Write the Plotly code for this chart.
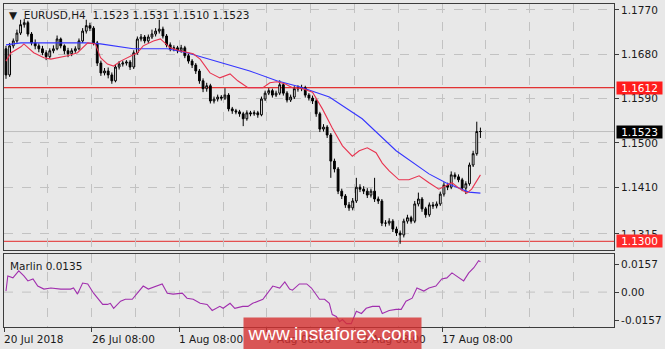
import plotly.graph_objects as go

# ---------------- data ----------------
bar_idx = list(range(131))

closes = [
    1.1638, 1.1697, 1.1707, 1.1723, 1.1740, 1.1744, 1.1721, 1.1703, 1.1697, 1.1691,
    1.1683, 1.1675, 1.1687, 1.1691, 1.1711, 1.1697, 1.1687, 1.1681, 1.1687, 1.1691,
    1.1707, 1.1727, 1.1738, 1.1733, 1.1703, 1.1662, 1.1642, 1.1646, 1.1638, 1.1626,
    1.1654, 1.1660, 1.1662, 1.1664, 1.1654, 1.1683, 1.1711, 1.1715, 1.1707, 1.1715,
    1.1721, 1.1727, 1.1731, 1.1717, 1.1699, 1.1691, 1.1693, 1.1687, 1.1693, 1.1677,
    1.1666, 1.1658, 1.1646, 1.1626, 1.1610, 1.1616, 1.1585, 1.1589, 1.1593, 1.1591,
    1.1597, 1.1569, 1.1565, 1.1563, 1.1559, 1.1549, 1.1561, 1.1559, 1.1561, 1.1557,
    1.1589, 1.1601, 1.1606, 1.1597, 1.1601, 1.1618, 1.1601, 1.1587, 1.1593, 1.1610,
    1.1610, 1.1612, 1.1597, 1.1591, 1.1585, 1.1559, 1.1528, 1.1532, 1.1516, 1.1463,
    1.1447, 1.1402, 1.1392, 1.1374, 1.1368, 1.1382, 1.1410, 1.1406, 1.1402, 1.1394,
    1.1402, 1.1386, 1.1382, 1.1337, 1.1337, 1.1341, 1.1325, 1.1317, 1.1313, 1.1341,
    1.1348, 1.1341, 1.1376, 1.1386, 1.1366, 1.1354, 1.1374, 1.1372, 1.1376, 1.1396,
    1.1414, 1.1410, 1.1435, 1.1431, 1.1425, 1.1408, 1.1417, 1.1455, 1.1478, 1.1523,
    1.1523,
]
first_open = 1.1691
opens = [first_open] + closes[:-1]

highs = [
    1.1697, 1.1703, 1.1712, 1.1730, 1.1750, 1.1752, 1.1748, 1.1725, 1.1710, 1.1702,
    1.1697, 1.1688, 1.1692, 1.1698, 1.1718, 1.1714, 1.1700, 1.1693, 1.1692, 1.1696,
    1.1712, 1.1733, 1.1750, 1.1744, 1.1737, 1.1707, 1.1667, 1.1652, 1.1653, 1.1643,
    1.1659, 1.1666, 1.1667, 1.1668, 1.1668, 1.1688, 1.1716, 1.1721, 1.1719, 1.1720,
    1.1730, 1.1733, 1.1750, 1.1736, 1.1721, 1.1704, 1.1698, 1.1697, 1.1699, 1.1697,
    1.1681, 1.1670, 1.1662, 1.1650, 1.1631, 1.1622, 1.1620, 1.1594, 1.1598, 1.1597,
    1.1611, 1.1601, 1.1573, 1.1569, 1.1567, 1.1563, 1.1566, 1.1565, 1.1566, 1.1565,
    1.1594, 1.1606, 1.1611, 1.1610, 1.1606, 1.1627, 1.1622, 1.1605, 1.1598, 1.1615,
    1.1617, 1.1618, 1.1616, 1.1601, 1.1596, 1.1589, 1.1563, 1.1538, 1.1536, 1.1520,
    1.1468, 1.1451, 1.1407, 1.1396, 1.1380, 1.1388, 1.1429, 1.1416, 1.1412, 1.1408,
    1.1407, 1.1429, 1.1391, 1.1386, 1.1343, 1.1347, 1.1345, 1.1330, 1.1322, 1.1346,
    1.1354, 1.1352, 1.1382, 1.1399, 1.1390, 1.1370, 1.1379, 1.1380, 1.1381, 1.1401,
    1.1420, 1.1419, 1.1442, 1.1440, 1.1436, 1.1429, 1.1422, 1.1460, 1.1484, 1.1543,
    1.1531,
]
lows = [
    1.1630, 1.1634, 1.1692, 1.1703, 1.1719, 1.1734, 1.1716, 1.1698, 1.1690, 1.1684,
    1.1678, 1.1668, 1.1671, 1.1682, 1.1688, 1.1692, 1.1680, 1.1674, 1.1676, 1.1683,
    1.1688, 1.1703, 1.1722, 1.1727, 1.1698, 1.1656, 1.1636, 1.1637, 1.1631, 1.1620,
    1.1623, 1.1649, 1.1655, 1.1657, 1.1648, 1.1650, 1.1679, 1.1706, 1.1702, 1.1703,
    1.1711, 1.1716, 1.1722, 1.1712, 1.1694, 1.1686, 1.1686, 1.1682, 1.1683, 1.1672,
    1.1661, 1.1652, 1.1640, 1.1620, 1.1603, 1.1604, 1.1580, 1.1580, 1.1584, 1.1586,
    1.1587, 1.1564, 1.1559, 1.1558, 1.1553, 1.1534, 1.1545, 1.1554, 1.1555, 1.1551,
    1.1554, 1.1585, 1.1597, 1.1592, 1.1593, 1.1597, 1.1596, 1.1582, 1.1583, 1.1589,
    1.1604, 1.1605, 1.1592, 1.1586, 1.1579, 1.1553, 1.1522, 1.1523, 1.1510, 1.1429,
    1.1440, 1.1396, 1.1386, 1.1368, 1.1362, 1.1363, 1.1378, 1.1400, 1.1396, 1.1388,
    1.1389, 1.1380, 1.1376, 1.1331, 1.1330, 1.1332, 1.1319, 1.1311, 1.1295, 1.1308,
    1.1336, 1.1336, 1.1337, 1.1371, 1.1360, 1.1348, 1.1350, 1.1366, 1.1367, 1.1372,
    1.1391, 1.1404, 1.1406, 1.1426, 1.1420, 1.1402, 1.1396, 1.1413, 1.1451, 1.1474,
    1.1510,
]

# fast (red) moving average, read at bar positions
ma_fast_x = [0, 1.4, 4.1, 4.9, 7.6, 10.4, 12.3, 16.9, 19.6, 22.4, 24.5, 25.9, 27.8, 29.5,
             31.4, 34.1, 36, 37.6, 40.4, 42.3, 45, 47.7, 51.3, 53.2, 55.9, 58.6, 61.4,
             63.5, 66.3, 68.7, 70.4, 72.3, 74.2, 76.4, 78.5, 81.3, 84, 86.7, 89.4, 92.2,
             94.9, 96.8, 99, 101.4, 103.1, 105, 107.7, 110.4, 113.2, 115.9, 118.6, 120.5,
             122.2, 124.1, 126.3, 127.6, 130]
ma_fast_y = [1.1666, 1.1683, 1.1695, 1.1701, 1.1683, 1.1673, 1.1670, 1.1677, 1.1683, 1.1703,
             1.1701, 1.1673, 1.1660, 1.1656, 1.1666, 1.1677, 1.1683, 1.1697, 1.1707, 1.1711,
             1.1693, 1.1687, 1.1681, 1.1670, 1.1642, 1.1632, 1.1640, 1.1626, 1.1612, 1.1612,
             1.1612, 1.1622, 1.1624, 1.1620, 1.1612, 1.1610, 1.1603, 1.1569, 1.1530, 1.1494,
             1.1473, 1.1484, 1.1490, 1.1480, 1.1459, 1.1443, 1.1425, 1.1425, 1.1433, 1.1419,
             1.1406, 1.1413, 1.1419, 1.1408, 1.1398, 1.1406, 1.1435]

# slow (blue) moving average
ma_slow_x = [0, 4.1, 21.8, 25.9, 34.9, 44.2, 49.6, 57.8, 66.8, 74.2, 80.4, 88.6, 97.6,
             106.9, 115.9, 120.5, 124.9, 126.8, 130]
ma_slow_y = [1.1699, 1.1703, 1.1703, 1.1701, 1.1691, 1.1691, 1.1683, 1.1666, 1.1646, 1.1626,
             1.1614, 1.1593, 1.1549, 1.1484, 1.1437, 1.1419, 1.1406, 1.1400, 1.1398]

# Marlin oscillator
marlin_x = [0, 0.5, 1.9, 3.5, 4.9, 6.0, 7.4, 8.7, 10.4, 12.3, 15, 17.7, 18.5, 19.6, 21, 22.4,
            24, 26.5, 27.8, 28.6, 29.5, 31.4, 32.7, 34.6, 36, 37.6, 39, 41.5, 42.8, 44.2,
            45.8, 48.3, 49.6, 51.3, 53.2, 55.1, 56.5, 58.6, 59.5, 61.4, 62.7, 64.9, 66.3,
            67.6, 70.4, 73.1, 75, 76.4, 77.7, 78.5, 80.4, 82.4, 83.7, 85.9, 87.3, 88.6,
            89.4, 90.5, 91.4, 92.2, 93.3, 94.6, 96, 97.4, 98.7, 100.4, 102.3, 103.1, 105,
            106.9, 108.3, 109.6, 111.3, 112.6, 114.5, 115.9, 117.8, 119.4, 120.8, 122.2,
            123.5, 125.4, 126.8, 128.2, 129.5, 130]
marlin_y = [0.0006, 0.0091, 0.0080, 0.0120, 0.0091, 0.0063, 0.0074, 0.0034, 0.0017, 0.0023,
            0.0017, 0.0017, 0.0023, -0.0011, 0.0051, 0.0046, -0.0006, -0.0069, -0.0069,
            -0.0063, -0.0091, -0.0051, -0.0040, -0.0040, -0.0006, 0.0034, 0.0017, 0.0034,
            0.0046, -0.0006, -0.0011, -0.0006, -0.0034, -0.0040, -0.0063, -0.0069, -0.0103,
            -0.0080, -0.0091, -0.0063, -0.0091, -0.0080, -0.0080, -0.0063, -0.0040, 0.0034,
            0.0023, 0.0057, 0.0017, 0.0011, 0.0046, 0.0046, 0.0023, -0.0040, -0.0040,
            -0.0063, -0.0126, -0.0137, -0.0166, -0.0154, -0.0177, -0.0177, -0.0108, -0.0120,
            -0.0091, -0.0080, -0.0080, -0.0120, -0.0103, -0.0097, -0.0097, -0.0051, -0.0034,
            0.0023, 0.0006, 0.0023, 0.0034, 0.0074, 0.0080, 0.0108, 0.0091, 0.0063, 0.0108,
            0.0137, 0.0177, 0.0171]

price_ticks = [1.1770, 1.1680, 1.1590, 1.1500, 1.1410, 1.1315]
osc_ticks = [0.0157, 0.0, -0.0157]
osc_tick_text = ["0.0157", "0.00", "-0.0157"]

date_label_pos = [-0.5, 23.5, 47.5, 71.5, 95.5, 119.5]
date_labels = ["20 Jul 2018", "26 Jul 08:00", "1 Aug 08:00", "7 Aug 08:00",
               "13 Aug 08:00", "17 Aug 08:00"]
grid_minor_pos = [11.5, 35.5, 59.5, 83.5, 107.5, 131.5, 143.5, 155.5]

level_upper = 1.1612
level_lower = 1.1300
bid_price = 1.1523
header_text = "EURUSD,H4\u00a0\u00a01.1523 1.1531 1.1510 1.1523"
marlin_label = "Marlin 0.0135"

# ---------------- styling ----------------
BG = "#e8e8e8"
FRAME = "#3c3c3c"
GRID = "#c2c2c2"
TXT = "#1a1a1a"
FONT = "DejaVu Sans"
FS = 10.5

fig = go.Figure()

fig.add_trace(go.Candlestick(
    x=bar_idx, open=opens, high=highs, low=lows, close=closes,
    increasing=dict(line=dict(color="#000000", width=1), fillcolor="#ffffff"),
    decreasing=dict(line=dict(color="#000000", width=1), fillcolor="#000000"),
    whiskerwidth=0, xaxis="x", yaxis="y", showlegend=False, hoverinfo="skip",
))
fig.add_trace(go.Scatter(x=ma_slow_x, y=ma_slow_y, mode="lines",
                         line=dict(color="#3535ff", width=1.1),
                         xaxis="x", yaxis="y", showlegend=False, hoverinfo="skip"))
fig.add_trace(go.Scatter(x=ma_fast_x, y=ma_fast_y, mode="lines",
                         line=dict(color="#e8334f", width=1.1),
                         xaxis="x", yaxis="y", showlegend=False, hoverinfo="skip"))
fig.add_trace(go.Scatter(x=marlin_x, y=marlin_y, mode="lines",
                         line=dict(color="#a12fae", width=1.1),
                         xaxis="x2", yaxis="y2", showlegend=False, hoverinfo="skip"))

x_range = [-0.545, 166.6]
main_dom = [0.2377, 1.0]
osc_dom = [0.0, 0.2253]

axis_common = dict(showline=True, linecolor=FRAME, linewidth=1, mirror=True,
                   zeroline=False)

fig.update_layout(
    width=665, height=349,
    margin=dict(l=3, r=49, t=3, b=22),
    paper_bgcolor=BG, plot_bgcolor=BG,
    font=dict(family=FONT, size=FS, color=TXT),
    hovermode=False,
    showlegend=False,
    xaxis=dict(domain=[0, 1], anchor="y", range=x_range, rangeslider=dict(visible=False),
               tickvals=date_label_pos, showticklabels=False, ticks="",
               showgrid=True, gridcolor=GRID, griddash="dash", gridwidth=1,
               minor=dict(tickvals=grid_minor_pos, showgrid=True, gridcolor=GRID,
                          griddash="dash", ticks=""),
               **axis_common),
    yaxis=dict(domain=main_dom, anchor="x", side="right", range=[1.1282, 1.1782],
               tickvals=price_ticks, ticktext=[f"{v:.4f}" for v in price_ticks],
               ticks="outside", ticklen=4, tickcolor=FRAME,
               showgrid=True, gridcolor=GRID, griddash="dash", gridwidth=1,
               tickfont=dict(family=FONT, size=FS, color=TXT),
               **axis_common),
    xaxis2=dict(domain=[0, 1], anchor="y2", range=x_range, matches="x",
                tickvals=date_label_pos, showticklabels=False, ticks="outside",
                ticklen=4, tickcolor=FRAME,
                showgrid=True, gridcolor=GRID, griddash="dash", gridwidth=1,
                minor=dict(tickvals=grid_minor_pos, showgrid=True, gridcolor=GRID,
                           griddash="dash", ticks=""),
                rangeslider=dict(visible=False),
                **axis_common),
    yaxis2=dict(domain=osc_dom, anchor="x2", side="right", range=[-0.0196, 0.0213],
                tickvals=osc_ticks, ticktext=osc_tick_text,
                ticks="outside", ticklen=4, tickcolor=FRAME, showgrid=False,
                tickfont=dict(family=FONT, size=FS, color=TXT),
                **axis_common),
)

shapes = [
    dict(type="line", xref="x domain", x0=0, x1=1, yref="y", y0=bid_price, y1=bid_price,
         line=dict(color="#bdbdbd", width=1), layer="below"),
    dict(type="line", xref="x domain", x0=0, x1=1, yref="y", y0=level_upper, y1=level_upper,
         line=dict(color="#e00000", width=1), layer="below"),
    dict(type="line", xref="x domain", x0=0, x1=1, yref="y", y0=level_lower, y1=level_lower,
         line=dict(color="#e45050", width=1.2), layer="below"),
    dict(type="line", xref="x2 domain", x0=0, x1=1, yref="y2", y0=0, y1=0,
         line=dict(color=GRID, width=1, dash="dash"), layer="below"),
]
fig.update_layout(shapes=shapes)

ann = []
# header
ann.append(dict(xref="paper", yref="paper", x=0, y=1, xanchor="left", yanchor="top",
                xshift=3, yshift=-3, showarrow=False,
                text="\u25bc\u00a0\u00a0" + header_text,
                font=dict(family=FONT, size=FS, color=TXT)))
# oscillator label
ann.append(dict(xref="paper", yref="paper", x=0, y=osc_dom[1], xanchor="left",
                yanchor="top", xshift=4, yshift=-4, showarrow=False, text=marlin_label,
                font=dict(family=FONT, size=FS, color=TXT)))
# date labels
for pos, lab in zip(date_label_pos, date_labels):
    ann.append(dict(xref="x2", yref="paper", x=pos, y=0, xanchor="left", yanchor="top",
                    xshift=-2, yshift=-4, showarrow=False, text=lab,
                    font=dict(family=FONT, size=FS, color=TXT)))
# price boxes on the right scale
for val, bg in [(level_upper, "#ff1c1c"), (bid_price, "#000000"), (level_lower, "#ff2a2a")]:
    ann.append(dict(xref="paper", yref="y", x=1, y=val, xanchor="left", yanchor="middle",
                    xshift=2, showarrow=False, text=f"{val:.4f}", bgcolor=bg,
                    width=43, height=10, borderpad=1, align="center",
                    font=dict(family=FONT, size=FS, color="#ffffff")))
# watermark
ann.append(dict(xref="paper", yref="paper", x=0.539, y=-0.0201, xanchor="center",
                yanchor="middle", showarrow=False, text="www.instaforex.com",
                bgcolor="rgba(212,48,48,0.80)", width=175, height=29, borderpad=1,
                font=dict(family="Liberation Sans", size=19, color="#ffffff")))
fig.update_layout(annotations=ann)

fig.write_html("out.html")
